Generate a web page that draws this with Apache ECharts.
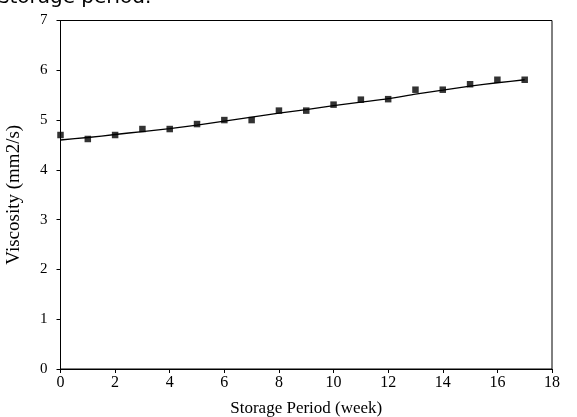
<!DOCTYPE html>
<html>
<head>
<meta charset="utf-8">
<script src="https://cdn.jsdelivr.net/npm/echarts@6/dist/echarts.min.js"></script>
<style>
html,body{margin:0;padding:0;background:#fff;}
#chart{width:577px;height:417px;}
</style>
</head>
<body>
<div id="chart"></div>
<script>
const weeks = [0,1,2,3,4,5,6,7,8,9,10,11,12,13,14,15,16,17];
const viscosity = [4.70,4.62,4.70,4.82,4.82,4.92,5.00,5.00,5.19,5.19,5.31,5.41,5.42,5.61,5.61,5.72,5.81,5.81];
const trend = [4.60,4.65,4.71,4.77,4.83,4.90,4.98,5.06,5.14,5.21,5.29,5.36,5.43,5.52,5.60,5.68,5.75,5.81];
const xTicks = [0,2,4,6,8,10,12,14,16,18];
const yTicks = [0,1,2,3,4,5,6,7];
const captionText = 'storage period.';

const chart = echarts.init(document.getElementById('chart'), null, {renderer:'canvas'});
const serif = '"Liberation Serif", "Times New Roman", serif';
chart.setOption({
  animation:false,
  backgroundColor:'#fff',
  graphic:[{
    type:'text', left:-1, top:-12,
    style:{text:captionText, font:'20px "DejaVu Sans", sans-serif', fill:'#000'}
  }],
  grid:{left:60.5, right:25, top:20.5, bottom:48, show:true, borderColor:'#000', borderWidth:1,
        containLabel:false, outerBoundsMode:'none'},
  xAxis:{
    type:'value', min:xTicks[0], max:xTicks[xTicks.length-1], interval:2,
    name:'Storage Period (week)', nameLocation:'middle', nameGap:31,
    nameTextStyle:{fontFamily:serif, fontSize:17, color:'#000'},
    axisLine:{show:true, onZero:false, lineStyle:{color:'#000', width:1}},
    axisTick:{show:true, inside:false, length:4, lineStyle:{color:'#000'}},
    axisLabel:{fontFamily:serif, fontSize:16, color:'#000', margin:6},
    splitLine:{show:false}
  },
  yAxis:{
    type:'value', min:yTicks[0], max:yTicks[yTicks.length-1], interval:1,
    name:'Viscosity (mm2/s)', nameLocation:'middle', nameGap:37, nameRotate:90,
    nameTextStyle:{fontFamily:serif, fontSize:19, color:'#000'},
    axisLine:{show:true, lineStyle:{color:'#000', width:1}},
    axisTick:{show:true, inside:false, length:4, lineStyle:{color:'#000'}},
    axisLabel:{fontFamily:serif, fontSize:15, color:'#000', margin:13},
    splitLine:{show:false}
  },
  series:[
    {
      type:'line', data:weeks.map((w,i)=>[w,trend[i]]), smooth:0.2,
      showSymbol:false, symbol:'none', lineStyle:{color:'#000', width:1.3}, z:2
    },
    {
      type:'scatter', data:weeks.map((w,i)=>[w,viscosity[i]]),
      symbol:'rect', symbolSize:6.5, itemStyle:{color:'#000'}, z:3
    }
  ]
});
</script>
</body>
</html>
